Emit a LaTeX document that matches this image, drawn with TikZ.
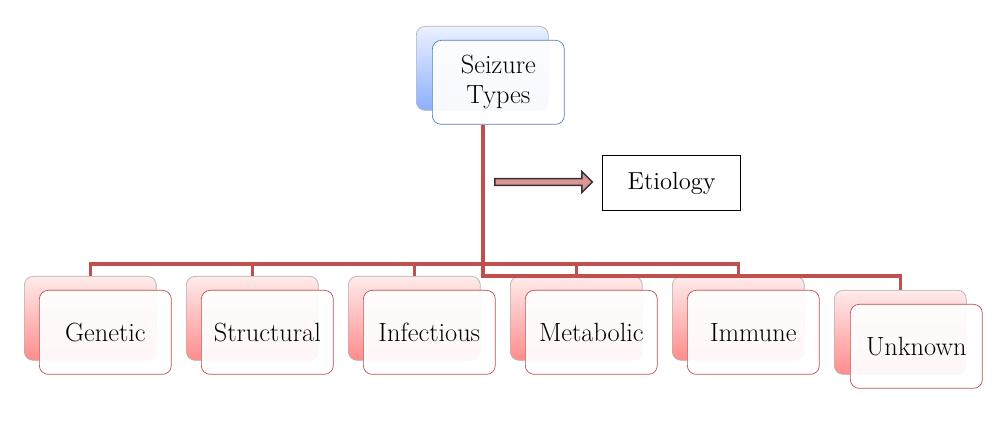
\documentclass[tikz,border=0pt]{standalone}
\usepackage{tikz}
\usetikzlibrary{shapes.arrows}
\definecolor{boxred}{HTML}{C0504D}
\definecolor{boxblue}{HTML}{4F81BD}
\definecolor{arrowpink}{HTML}{D99694}
\begin{document}
\begin{tikzpicture}[x=0.02cm, y=-0.02cm,
    back/.style={draw=gray!60, rounded corners=5pt, minimum width=2.64cm, minimum height=1.68cm,
      anchor=north west, top color=#1!8, bottom color=#1!45},
    front/.style={draw=#1, rounded corners=5pt, minimum width=2.64cm, minimum height=1.68cm,
      anchor=north west, fill=white, fill opacity=0.93, text opacity=1, font=\fontsize{15}{17}\selectfont},
    link/.style={draw=boxred, line width=2pt}]

    \useasboundingbox (0,0) rectangle (1000,448);

    % top box
    \node[back=blue!70!cyan] (topback) at (416,26) {};
    \node[front=boxblue, align=center] (top) at (432,40) {Seizure\\Types};

    % etiology
    \node[draw, line width=0.8pt, anchor=north west, minimum width=2.76cm, minimum height=1.1cm,
      font=\fontsize{14}{16}\selectfont] (etio) at (602,155) {Etiology\hspace{1.5em}};
    \node[single arrow, draw=black!80, fill=arrowpink, minimum height=1.95cm, minimum width=0.42cm,
      single arrow head extend=3pt, inner sep=1pt, line width=0.8pt] (arr) at (542,182) {};

    % children
    \foreach \name/\txt/\x [count=\i] in {gen/Genetic/24, str/Structural/186, inf/Infectious/348,
        met/Metabolic/510, imm/Immune/672} {
      \node[back=red] (\name b) at (\x,276) {};
      \node[front=boxred] (\name) at (\x+15,290) {\txt};
    }
    \node[back=red] (unkb) at (834,290) {};
    \node[front=boxred] (unk) at (850,304) {Unknown};

    % connectors
    \coordinate (up) at (483,264);
    \coordinate (low) at (483,276);
    \draw[link] (top.south -| up) -- (low) -| (unkb.north);
    \draw[link] (genb.north) |- (up) -| (immb.north);
    \foreach \n in {strb, infb, metb} \draw[link] (\n.north) -- (\n.north |- up);

\end{tikzpicture}
\end{document}
